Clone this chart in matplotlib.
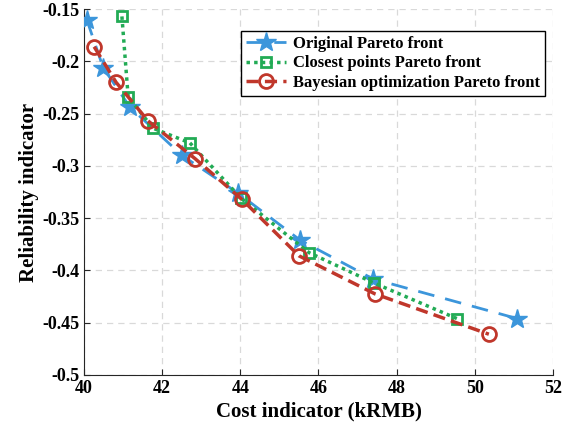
import matplotlib
matplotlib.use('Agg')
import matplotlib.pyplot as plt

# Pareto fronts: cost (kRMB) vs reliability indicator
orig_cost = [40.07, 40.49, 41.18, 42.51, 43.94, 45.53, 47.39, 51.08]
orig_rel = [-0.160, -0.206, -0.244, -0.290, -0.326, -0.371, -0.408, -0.446]

close_cost = [40.97, 41.13, 41.77, 42.71, 44.02, 45.76, 47.42, 49.54]
close_rel = [-0.157, -0.234, -0.264, -0.278, -0.331, -0.383, -0.412, -0.446]

bayes_cost = [40.26, 40.82, 41.64, 42.84, 44.04, 45.50, 47.45, 50.36]
bayes_rel = [-0.186, -0.220, -0.257, -0.293, -0.332, -0.386, -0.4225, -0.461]

xticks = [40, 42, 44, 46, 48, 50, 52]
yticks = [-0.5, -0.45, -0.4, -0.35, -0.3, -0.25, -0.2, -0.15]
ytick_labels = ['-0.5', '-0.45', '-0.4', '-0.35', '-0.3', '-0.25', '-0.2', '-0.15']

plt.rcParams['font.family'] = 'Liberation Serif'
plt.rcParams['font.weight'] = 'bold'

fig = plt.figure(figsize=(5.73, 4.33), dpi=100)
ax = fig.add_axes([0.1466, 0.134, 0.8184, 0.845])

ax.plot(orig_cost, orig_rel, color='#3c96db', linestyle=(0, (6, 4)), linewidth=2,
        marker='*', markersize=15, markerfacecolor='#3c96db', markeredgecolor='#3c96db',
        label='Original Pareto front', zorder=3)
ax.plot(close_cost, close_rel, color='#22ab55', linestyle=(0, (1, 1.2)), linewidth=2.5,
        marker='s', markersize=7, markerfacecolor='none', markeredgecolor='#22ab55',
        markeredgewidth=2, label='Closest points Pareto front', zorder=4)
ax.plot(bayes_cost, bayes_rel, color='#c0372b', linestyle=(0, (3.5, 1.8)), linewidth=2.5,
        marker='o', markersize=10, markerfacecolor='none', markeredgecolor='#c0372b',
        markeredgewidth=2, label='Bayesian optimization Pareto front', zorder=5)

ax.set_xlim(40, 52)
ax.set_ylim(-0.5, -0.15)
ax.set_xticks(xticks)
ax.set_yticks(yticks)
ax.set_yticklabels(ytick_labels)
ax.tick_params(direction='in', labelsize=13, length=4, width=0.8, colors='#262626')
for lbl in ax.get_xticklabels() + ax.get_yticklabels():
    lbl.set_color('black')
    lbl.set_fontweight('bold')

ax.grid(True, linestyle=(0, (5, 4)), color='#d9d9d9', linewidth=0.9)
ax.set_axisbelow(True)
ax.spines['top'].set_visible(False)
ax.spines['right'].set_visible(False)
ax.spines['left'].set_color('#262626')
ax.spines['bottom'].set_color('#262626')

ax.set_xlabel('Cost indicator (kRMB)', fontsize=15, fontweight='bold', labelpad=3)
ax.set_ylabel('Reliability indicator', fontsize=15, fontweight='bold', labelpad=2)

leg = ax.legend(loc='upper right', bbox_to_anchor=(0.983, 0.94), borderaxespad=0,
                frameon=True, fancybox=False, edgecolor='black', framealpha=1,
                handlelength=2.4, borderpad=0.3, labelspacing=0.2, handletextpad=0.4,
                prop={'weight': 'bold', 'size': 12})
leg.get_frame().set_linewidth(1.0)

fig.savefig('out.png', dpi=100)
